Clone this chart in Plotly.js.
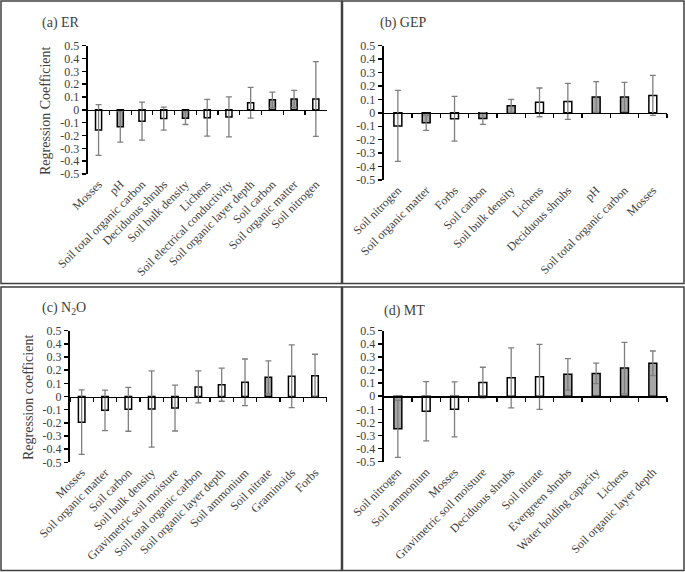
<!DOCTYPE html>
<html>
<head>
<meta charset="utf-8">
<script src="https://cdn.plot.ly/plotly-3.0.1.min.js"></script>
<style>
  html, body { margin: 0; padding: 0; background: #ffffff; }
  #chart { width: 685px; height: 572px; }
</style>
</head>
<body>
<div id="chart"></div>
<script>
// ---------------- DATA ----------------
// (a) ER
const aCategories = ["Mosses", "pH", "Soil total organic carbon", "Deciduous shrubs", "Soil bulk density", "Lichens",
  "Soil electrical conductivity", "Soil organic layer depth", "Soil carbon", "Soil organic matter", "Soil nitrogen"];
const aValues = [-0.157, -0.132, -0.088, -0.068, -0.065, -0.062, -0.055, 0.055, 0.078, 0.085, 0.085];
const aErrors = [0.198, 0.119, 0.148, 0.090, 0.049, 0.143, 0.156, 0.120, 0.060, 0.067, 0.291];
const aSignificant = [false, true, false, false, true, false, false, false, true, true, false];

// (b) GEP
const bCategories = ["Soil nitrogen", "Soil organic matter", "Forbs", "Soil carbon", "Soil bulk density", "Lichens",
  "Deciduous shrubs", "pH", "Soil total organic carbon", "Mosses"];
const bValues = [-0.097, -0.074, -0.044, -0.042, 0.052, 0.078, 0.085, 0.118, 0.118, 0.130];
const bErrors = [0.264, 0.056, 0.167, 0.044, 0.049, 0.107, 0.134, 0.114, 0.109, 0.149];
const bSignificant = [false, true, false, true, true, false, false, true, true, false];

// (c) N2O
const cCategories = ["Mosses", "Soil organic matter", "Soil carbon", "Soil bulk density", "Gravimetric soil moisture",
  "Soil total organic carbon", "Soil organic layer depth", "Soil ammonium", "Soil nitrate", "Graminoids", "Forbs"];
const cValues = [-0.195, -0.105, -0.097, -0.095, -0.088, 0.073, 0.090, 0.108, 0.146, 0.154, 0.158];
const cErrors = [0.245, 0.154, 0.167, 0.290, 0.174, 0.122, 0.126, 0.177, 0.125, 0.238, 0.163];
const cSignificant = [false, false, false, false, false, false, false, false, true, false, false];

// (d) MT
const dCategories = ["Soil nitrogen", "Soil ammonium", "Mosses", "Gravimetric soil moisture", "Deciduous shrubs",
  "Soil nitrate", "Evergreen shrubs", "Water holding capacity", "Lichens", "Soil organic layer depth"];
const dValues = [-0.249, -0.115, -0.100, 0.104, 0.140, 0.148, 0.167, 0.174, 0.215, 0.251];
const dErrors = [0.218, 0.226, 0.210, 0.117, 0.229, 0.248, 0.120, 0.078, 0.196, 0.094];
const dSignificant = [true, false, false, false, false, false, true, true, true, true];

const yTickVals = [-0.5, -0.4, -0.3, -0.2, -0.1, 0, 0.1, 0.2, 0.3, 0.4, 0.5];
const yTickText = ["-0.5", "-0.4", "-0.3", "-0.2", "-0.1", "0", "0.1", "0.2", "0.3", "0.4", "0.5"];

const panelTitles = ["(a) ER", "(b) GEP", "(c) N<sub>2</sub>O", "(d) MT"];
const yTitles = ["Regression Coefficient", null, "Regression coefficient", null];

// ---------------- LAYOUT GEOMETRY ----------------
const W = 685, H = 572;
const px = v => v / W;
const py = v => 1 - v / H;
const FONT = "Liberation Serif, Times New Roman, serif";
const GRAY_FILL = "#a6a6a6";

const panels = [
  {cats: aCategories, vals: aValues, errs: aErrors, sig: aSignificant, x0: 87.7, x1: 326.7, yTop: 45.7, yBot: 174.0,
   box: [1, 1, 341.5, 283.5], title: [40, 23], ytitle: [45, 111]},
  {cats: bCategories, vals: bValues, errs: bErrors, sig: bSignificant, x0: 383.7, x1: 667.0, yTop: 45.7, yBot: 180.0,
   box: [342.5, 1, 684, 283.5], title: [378, 23], ytitle: null},
  {cats: cCategories, vals: cValues, errs: cErrors, sig: cSignificant, x0: 70.0, x1: 326.7, yTop: 330.7, yBot: 462.3,
   box: [1, 287, 341.5, 570.5], title: [40, 308], ytitle: [28, 398]},
  {cats: dCategories, vals: dValues, errs: dErrors, sig: dSignificant, x0: 383.7, x1: 667.0, yTop: 330.7, yBot: 461.7,
   box: [342.5, 287, 684, 570.5], title: [382, 311], ytitle: null}
];

const traces = [];
const layout = {
  width: W, height: H,
  margin: {l: 0, r: 0, t: 0, b: 0},
  paper_bgcolor: "#ffffff",
  plot_bgcolor: "rgba(0,0,0,0)",
  showlegend: false,
  bargap: 0.72,
  font: {family: FONT, color: "#404040", size: 12},
  shapes: [],
  annotations: []
};

panels.forEach((p, i) => {
  const n = i + 1;
  const xName = n === 1 ? "x" : "x" + n;
  const yName = n === 1 ? "y" : "y" + n;
  const zName = "x" + (n + 4);
  const xKey = n === 1 ? "xaxis" : "xaxis" + n;
  const yKey = n === 1 ? "yaxis" : "yaxis" + n;
  const zKey = "xaxis" + (n + 4);
  const nc = p.cats.length;
  const yDom = [py(p.yBot), py(p.yTop)];

  traces.push({
    type: "bar", x: p.cats, y: p.vals, xaxis: xName, yaxis: yName,
    marker: {color: p.sig.map(s => s ? GRAY_FILL : "#ffffff"), line: {color: "#000000", width: 1.5}},
    error_y: {type: "data", array: p.errs, visible: true, color: "#7f7f7f", thickness: 1.3, width: 3},
    hoverinfo: "x+y"
  });
  // invisible trace to carry categories on the zero-line axis
  traces.push({
    type: "scatter", mode: "markers", x: p.cats, y: p.vals, xaxis: zName, yaxis: yName,
    marker: {opacity: 0}, hoverinfo: "skip"
  });

  layout[xKey] = {
    domain: [px(p.x0), px(p.x1)], anchor: yName, type: "category",
    range: [-0.5, nc - 0.5], fixedrange: true,
    showline: false, ticks: "", showgrid: false, zeroline: false,
    tickangle: -45, tickfont: {family: FONT, size: 12, color: "#404040"},
    automargin: false
  };
  layout[zKey] = {
    overlaying: xName, anchor: "free", position: (yDom[0] + yDom[1]) / 2,
    type: "category", range: [-0.5, nc - 0.5], fixedrange: true,
    showline: true, linecolor: "#000000", linewidth: 1.5,
    ticks: "outside", tickson: "boundaries", ticklen: 4, tickwidth: 1.2, tickcolor: "#000000",
    showticklabels: false, showgrid: false, zeroline: false
  };
  layout[yKey] = {
    domain: yDom, anchor: xName, range: [-0.5, 0.5], fixedrange: true,
    tickvals: yTickVals, ticktext: yTickText,
    showline: true, linecolor: "#000000", linewidth: 2,
    ticks: "outside", ticklen: 4, tickwidth: 1.5, tickcolor: "#000000",
    showgrid: false, zeroline: false,
    tickfont: {family: FONT, size: 12, color: "#404040"},
    automargin: false
  };

  layout.shapes.push({
    type: "rect", xref: "paper", yref: "paper",
    x0: px(p.box[0]), x1: px(p.box[2]), y0: py(p.box[3]), y1: py(p.box[1]),
    line: {color: "#404040", width: 1.5}, fillcolor: "rgba(0,0,0,0)"
  });

  layout.annotations.push({
    text: panelTitles[i], xref: "paper", yref: "paper",
    x: px(p.title[0]), y: py(p.title[1]), xanchor: "left", yanchor: "middle",
    showarrow: false, font: {family: FONT, size: 14, color: "#404040"}
  });
  if (yTitles[i]) {
    layout.annotations.push({
      text: yTitles[i], xref: "paper", yref: "paper",
      x: px(p.ytitle[0]), y: py(p.ytitle[1]), xanchor: "center", yanchor: "middle",
      textangle: -90, showarrow: false, font: {family: FONT, size: 14, color: "#404040"}
    });
  }
});

Plotly.newPlot("chart", traces, layout, {staticPlot: true, displayModeBar: false});
</script>
</body>
</html>
